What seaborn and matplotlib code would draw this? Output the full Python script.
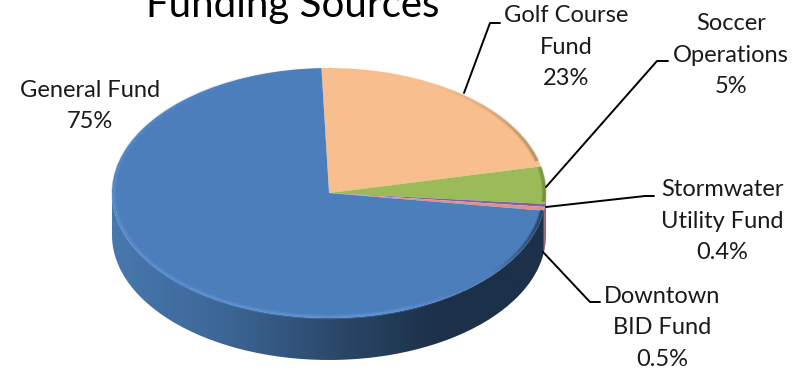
import numpy as np
import matplotlib
matplotlib.use("Agg")
import matplotlib.pyplot as plt
from matplotlib.collections import LineCollection
from matplotlib.patches import PathPatch, Polygon
from matplotlib.path import Path
import seaborn as sns

names = ["Golf Course\nFund\n23%", "Soccer\nOperations\n5%", "Stormwater\nUtility Fund\n0.4%",
         "Downtown\nBID Fund\n0.5%", "General Fund\n75%"]
shares = [23, 5, 0.4, 0.5, 75]
slice_colors = ["#F9BE8E", "#9BBB59", "#8064A2", "#E28F8C", "#4C7EBB"]
wall_colors = ["#9c7452", "#5e7235", "#4a3a60", "#8a4a48", "#3f6c9e"]
title_text = "Funding Sources"

W, H = 809, 372
cx, cy, rx, ry = 329, 193, 217, 125
depth_px = 42

sns.set_theme(style="white")
plt.rcParams["font.family"] = ["Lato", "DejaVu Sans"]

fig = plt.figure(figsize=(W / 100, H / 100), dpi=100)
ax = fig.add_axes([0, 0, 1, 1])
wedges, _ = ax.pie(shares, colors=slice_colors, startangle=92, counterclock=False,
                   wedgeprops=dict(linewidth=0, zorder=4))
ax.set_aspect("auto")
xlim = (-cx / rx, (W - cx) / rx)
ylim = (-(H - cy) / ry, cy / ry)
depth = depth_px / ry


def to_data(px, py):
    return (px - cx) / rx, (cy - py) / ry


# Extruded side wall, one section per slice, only where it faces the viewer.
wall_cmap = sns.blend_palette(["#4878AE", "#3d6798", "#2c4a6c", "#1c3049", "#1c3049"], as_cmap=True)
for wedge, shade in zip(wedges, wall_colors):
    a0, a1 = wedge.theta1 % 360, wedge.theta2 % 360
    spans = [(a0, a1)] if a0 < a1 else [(a0, 360), (0, a1)]
    for lo, hi in spans:
        lo, hi = max(lo, 180), min(hi, 360)
        if hi <= lo:
            continue
        t = np.radians(np.linspace(lo, hi, 120))
        x, y = np.cos(t), np.sin(t)
        pts = np.r_[np.c_[x, y], np.c_[x, y - depth][::-1]]
        if shade == wall_colors[-1]:
            patch = PathPatch(Path(np.r_[pts, pts[:1]]), facecolor="none", edgecolor="none", zorder=1)
            ax.add_patch(patch)
            grad = ax.imshow(np.linspace(0, 1, 256)[None, :], cmap=wall_cmap, aspect="auto",
                             extent=(-1, 1, -1.5, 0.2), zorder=1)
            grad.set_clip_path(patch)
        else:
            ax.add_patch(Polygon(pts, closed=True, facecolor=shade, edgecolor="none", zorder=2))


def rim(a_from, a_to, col_from, col_to, width, alpha_from=1.0, alpha_to=1.0):
    """Stroke an arc of the bevel, blending colour and opacity along its length."""
    t = np.radians(np.linspace(a_from, a_to, 160))
    p = np.c_[np.cos(t), np.sin(t)] * 0.992
    segs = np.stack([p[:-1], p[1:]], axis=1)
    blend = np.array(sns.blend_palette([col_from, col_to], n_colors=len(segs)))
    a = np.linspace(alpha_from, alpha_to, len(segs))
    ax.add_collection(LineCollection(segs, colors=np.c_[blend[:, :3], a], linewidths=width,
                                     capstyle="butt", zorder=5))


# Bevel along the rim of the top face: lit on the left, shaded towards the right.
for width, strength in [(3.4, 0.3), (1.6, 0.55)]:
    rim(92, 170, "#5c8fce", "#5c8fce", width, 0.0, strength)
    rim(170, 290, "#5c8fce", "#629AE0", width, strength, strength)
    rim(290, 320, "#629AE0", "#4C7EBB", width, strength, 0.0)
    rim(320, 352, "#27425f", "#22384f", width, 0.0, strength + 0.3)
    rim(60, 15, "#a98462", "#8a7a50", width, 0.0, strength)
    rim(12, -4, "#6f8a3c", "#5c7030", width, strength, strength)

ax.set_xlim(xlim)
ax.set_ylim(ylim)
ax.axis("off")

ax.text(*to_data(293, 17), title_text, fontsize=29, ha="center", va="baseline", color="black", zorder=6)

label_pos = [(566, 47), (731, 55), (722, 221), (662, 328), (90, 106)]
for name, pos in zip(names, label_pos):
    ax.text(*to_data(*pos), name, fontsize=17, ha="center", va="center", linespacing=1.6,
            color="#1a1a1a", zorder=6)

leaders = [
    [(464, 93), (490, 23), (500, 23)],
    [(546, 187), (657, 61), (668, 61)],
    [(546, 207), (645, 196), (654, 196)],
    [(543, 252), (590, 302), (600, 302)],
]
for line in leaders:
    xy = np.array([to_data(*p) for p in line])
    ax.plot(xy[:, 0], xy[:, 1], color="black", lw=1.4, zorder=6, solid_capstyle="round")

fig.savefig("out.png", dpi=100)
